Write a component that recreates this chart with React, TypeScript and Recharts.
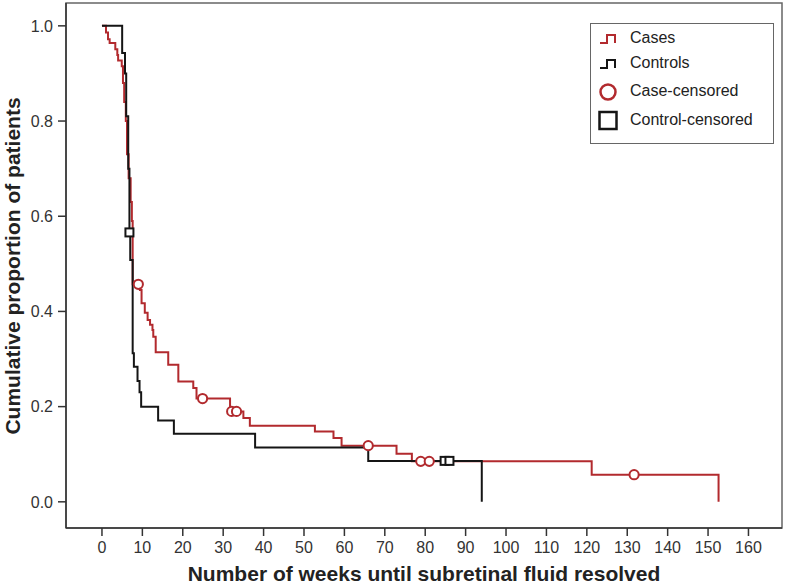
import React from "react";
import {
  ComposedChart,
  Line,
  Scatter,
  XAxis,
  YAxis,
  ReferenceArea,
} from "recharts";

// ---- data ----
const caseWeeks = [0, 1.0, 1.5, 1.9, 3.3, 3.8, 4.0, 4.9, 5.2, 5.5, 5.9, 6.2, 6.6, 7.1, 7.4, 7.6, 9.4, 9.8, 10.6, 11.3, 11.9, 12.5, 12.7, 13.3, 16.4, 18.9, 22.6, 23.4, 31.7, 35.0, 36.6, 52.7, 57.3, 59.3, 72.9, 76.7, 121.2, 152.6];
const caseSurv = [1.0, 0.986, 0.972, 0.964, 0.951, 0.939, 0.927, 0.915, 0.88, 0.84, 0.8, 0.73, 0.68, 0.63, 0.59, 0.457, 0.445, 0.417, 0.397, 0.382, 0.372, 0.361, 0.347, 0.314, 0.288, 0.253, 0.239, 0.217, 0.19, 0.176, 0.16, 0.148, 0.134, 0.118, 0.101, 0.085, 0.057, 0];

const controlWeeks = [0, 5.0, 5.7, 6.0, 6.5, 6.8, 7.0, 7.6, 7.9, 8.8, 9.3, 9.7, 13.9, 17.8, 37.9, 65.9, 94.0];
const controlSurv = [1.0, 0.943, 0.9, 0.81, 0.7, 0.566, 0.508, 0.312, 0.284, 0.254, 0.23, 0.2, 0.171, 0.143, 0.114, 0.086, 0];

const caseCensoredWeeks = [9.0, 24.9, 32.1, 33.3, 65.9, 78.9, 81.0, 131.7];
const caseCensoredSurv = [0.457, 0.217, 0.19, 0.19, 0.118, 0.085, 0.085, 0.057];

const controlCensoredWeeks = [6.8, 84.8, 86.0];
const controlCensoredSurv = [0.566, 0.086, 0.086];

const xTicks = [0, 10, 20, 30, 40, 50, 60, 70, 80, 90, 100, 110, 120, 130, 140, 150, 160];
const yTicks = [0, 0.2, 0.4, 0.6, 0.8, 1.0];

const seriesNames = ["Cases", "Controls", "Case-censored", "Control-censored"];

// ---- build tables ----
const zip = (w: number[], s: number[]) => w.map((week, i) => ({ week, surv: s[i] }));
const caseData = zip(caseWeeks, caseSurv);
const controlData = zip(controlWeeks, controlSurv);
const caseCensored = zip(caseCensoredWeeks, caseCensoredSurv);
const controlCensored = zip(controlCensoredWeeks, controlCensoredSurv);

const RED = "#b22a2e";
const BLACK = "#151515";
const FONT = "'Liberation Sans', Arial, sans-serif";

const X_DOMAIN: [number, number] = [-8.9, 168.3];
const Y_DOMAIN: [number, number] = [-0.055, 1.048];

const CircleShape = (props: any) => (
  <circle cx={props.cx} cy={props.cy} r={4.6} fill="#fff" stroke={RED} strokeWidth={2} />
);
const SquareShape = (props: any) => (
  <rect x={props.cx - 4} y={props.cy - 4} width={8} height={8} fill="#fff" stroke={BLACK} strokeWidth={2} />
);

const XTitle = (props: any) => {
  const vb = props.viewBox;
  return (
    <text
      x={vb.x + vb.width / 2}
      y={581}
      textAnchor="middle"
      fontFamily={FONT}
      fontWeight="bold"
      fontSize={21}
      fill="#222"
    >
      Number of weeks until subretinal fluid resolved
    </text>
  );
};

const YTitle = () => {
  const cx = 20;
  const cy = 266;
  return (
    <text
      x={cx}
      y={cy}
      transform={`rotate(-90 ${cx} ${cy})`}
      textAnchor="middle"
      fontFamily={FONT}
      fontWeight="bold"
      fontSize={21}
      fill="#222"
    >
      Cumulative proportion of patients
    </text>
  );
};

const LegendBox = () => {
  const rowStyle: React.CSSProperties = {
    position: "absolute",
    left: 39,
    fontSize: 16,
    fontFamily: FONT,
    color: "#222",
    lineHeight: "18px",
    whiteSpace: "nowrap",
  };
  return (
    <div
      style={{
        position: "absolute",
        left: 590,
        top: 23,
        width: 182,
        height: 119,
        border: "1px solid #666",
        background: "#fff",
      }}
    >
      <svg width={40} height={119} style={{ position: "absolute", left: 0, top: 0 }}>
        <path d="M9,19 H16 V11 H24 V19" fill="none" stroke={RED} strokeWidth={2} />
        <path d="M9,44 H16 V36 H24 V44" fill="none" stroke={BLACK} strokeWidth={2} />
        <circle cx={17} cy={68} r={7.5} fill="none" stroke={RED} strokeWidth={2.5} />
        <rect x={8.5} y={88} width={17} height={17} fill="none" stroke={BLACK} strokeWidth={2.5} />
      </svg>
      <div style={{ ...rowStyle, top: 5 }}>{seriesNames[0]}</div>
      <div style={{ ...rowStyle, top: 30 }}>{seriesNames[1]}</div>
      <div style={{ ...rowStyle, top: 58 }}>{seriesNames[2]}</div>
      <div style={{ ...rowStyle, top: 87 }}>{seriesNames[3]}</div>
    </div>
  );
};

export default function App() {
  return (
    <div style={{ position: "absolute", left: 0, top: 0, width: 786, height: 585, background: "#fff" }}>
      <ComposedChart width={786} height={585} margin={{ top: 3, right: 4, bottom: 0, left: 0 }}>
        <XAxis
          type="number"
          dataKey="week"
          domain={X_DOMAIN}
          allowDataOverflow
          ticks={xTicks}
          interval={0}
          height={57}
          tickSize={8}
          tickMargin={6}
          axisLine={{ stroke: "#333", strokeWidth: 1.5 }}
          tickLine={{ stroke: "#333", strokeWidth: 1.5 }}
          tick={{ fill: "#333", fontSize: 16, fontFamily: FONT }}
          label={<XTitle />}
        />
        <YAxis
          type="number"
          dataKey="surv"
          domain={Y_DOMAIN}
          allowDataOverflow
          ticks={yTicks}
          interval={0}
          width={66}
          tickSize={8}
          tickMargin={5}
          tickFormatter={(v: number) => v.toFixed(1)}
          axisLine={{ stroke: "#333", strokeWidth: 1.5 }}
          tickLine={{ stroke: "#333", strokeWidth: 1.5 }}
          tick={{ fill: "#333", fontSize: 16, fontFamily: FONT }}
          label={<YTitle />}
        />
        <ReferenceArea
          x1={X_DOMAIN[0]}
          x2={X_DOMAIN[1]}
          y1={Y_DOMAIN[0]}
          y2={Y_DOMAIN[1]}
          fill="none"
          fillOpacity={0}
          stroke="#666"
          strokeWidth={1.5}
          ifOverflow="visible"
        />
        <Line
          data={caseData}
          dataKey="surv"
          name={seriesNames[0]}
          type="stepAfter"
          stroke={RED}
          strokeWidth={2}
          dot={false}
          activeDot={false}
          isAnimationActive={false}
        />
        <Line
          data={controlData}
          dataKey="surv"
          name={seriesNames[1]}
          type="stepAfter"
          stroke={BLACK}
          strokeWidth={2}
          dot={false}
          activeDot={false}
          isAnimationActive={false}
        />
        <Scatter
          data={caseCensored}
          dataKey="surv"
          name={seriesNames[2]}
          shape={<CircleShape />}
          isAnimationActive={false}
        />
        <Scatter
          data={controlCensored}
          dataKey="surv"
          name={seriesNames[3]}
          shape={<SquareShape />}
          isAnimationActive={false}
        />
      </ComposedChart>
      <LegendBox />
    </div>
  );
}
